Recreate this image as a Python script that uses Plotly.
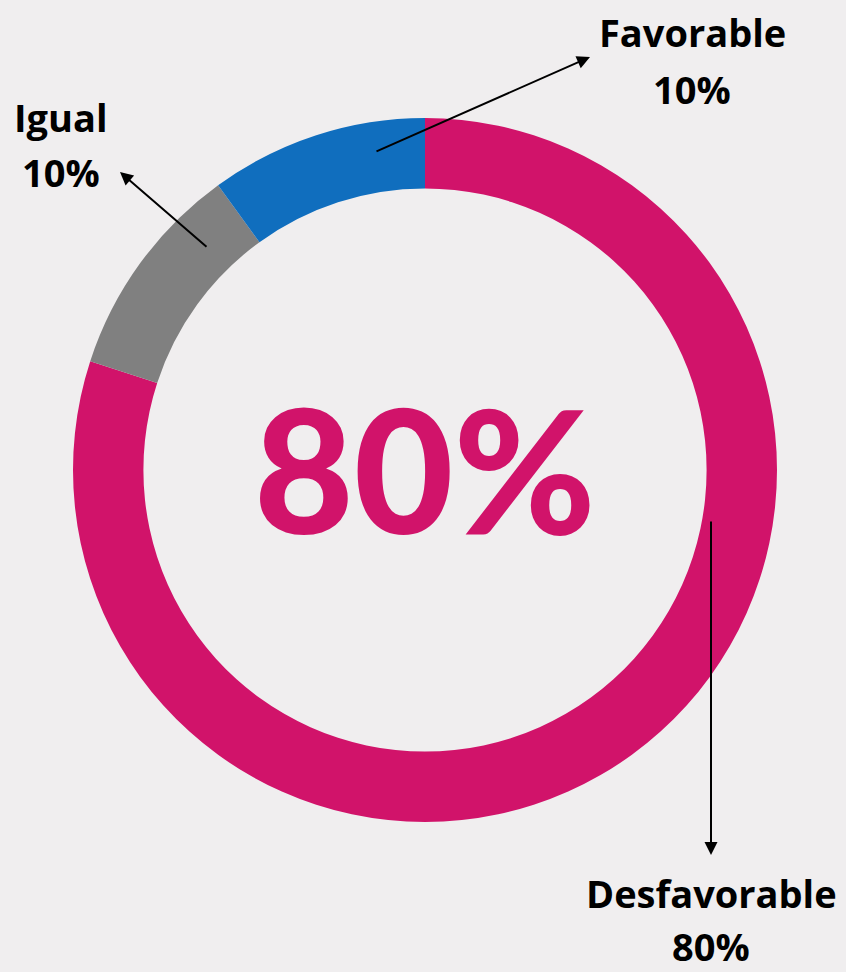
import plotly.graph_objects as go

W, H = 846, 972

categories = ["Desfavorable", "Igual", "Favorable"]
values = [80, 10, 10]
colors = ["#D1136A", "#808080", "#106EBE"]
label_pct = ["80%", "10%", "10%"]
center_text = "80%"

BG = "#F0EEEF"
LABEL_FONT = "Open Sans"
CENTER_FONT = "Lato"

def px(x):
    return x / W

def py(y):
    return 1 - y / H

fig = go.Figure()
fig.add_trace(go.Pie(
    labels=categories,
    values=values,
    marker=dict(colors=colors, line=dict(width=0)),
    hole=0.8,
    sort=False,
    direction="clockwise",
    rotation=0,
    textinfo="none",
    hoverinfo="label+percent",
    showlegend=False,
    domain=dict(x=[px(73), px(777)], y=[py(822), py(118)]),
))

annotations = []

# center text
annotations.append(dict(x=px(425), y=py(468), xref="paper", yref="paper",
                        text=center_text, showarrow=False,
                        font=dict(family=CENTER_FONT, size=172, color=colors[0], weight=900),
                        xanchor="center", yanchor="middle"))

# labels (name line + pct line)
label_pos = {
    "Favorable": (692, 32, 89),
    "Igual": (61, 117, 172),
    "Desfavorable": (711, 893, 946),
}
for cat, pct in zip(categories, label_pct):
    x, y1, y2 = label_pos[cat]
    annotations.append(dict(x=px(x), y=py(y1), xref="paper", yref="paper",
                            text=f"<b>{cat}</b>", showarrow=False, borderpad=0,
                            font=dict(family=LABEL_FONT, size=38, color="#000000"),
                            xanchor="center", yanchor="middle"))
    annotations.append(dict(x=px(x), y=py(y2), xref="paper", yref="paper",
                            text=f"<b>{pct}</b>", showarrow=False, borderpad=0,
                            font=dict(family=LABEL_FONT, size=38, color="#000000"),
                            xanchor="center", yanchor="middle"))

# arrows: (head x, head y, tail x, tail y)
arrows = [
    (590, 57, 375, 152),
    (120, 172, 208, 248),
    (711, 855, 711, 520),
]
for hx, hy, tx, ty in arrows:
    annotations.append(dict(x=px(hx), y=py(hy), xref="paper", yref="paper",
                            text="", showarrow=True,
                            ax=tx - hx, ay=ty - hy,
                            arrowhead=2, arrowsize=1.3, arrowwidth=2,
                            arrowcolor="#000000"))

fig.update_layout(
    width=W, height=H,
    margin=dict(l=0, r=0, t=0, b=0),
    paper_bgcolor=BG, plot_bgcolor=BG,
    annotations=annotations,
    font=dict(family=LABEL_FONT),
)

fig.write_html(
    "out.html",
    config={"displayModeBar": False},
    post_script="document.body.style.margin='0';document.body.style.overflow='hidden';",
)
